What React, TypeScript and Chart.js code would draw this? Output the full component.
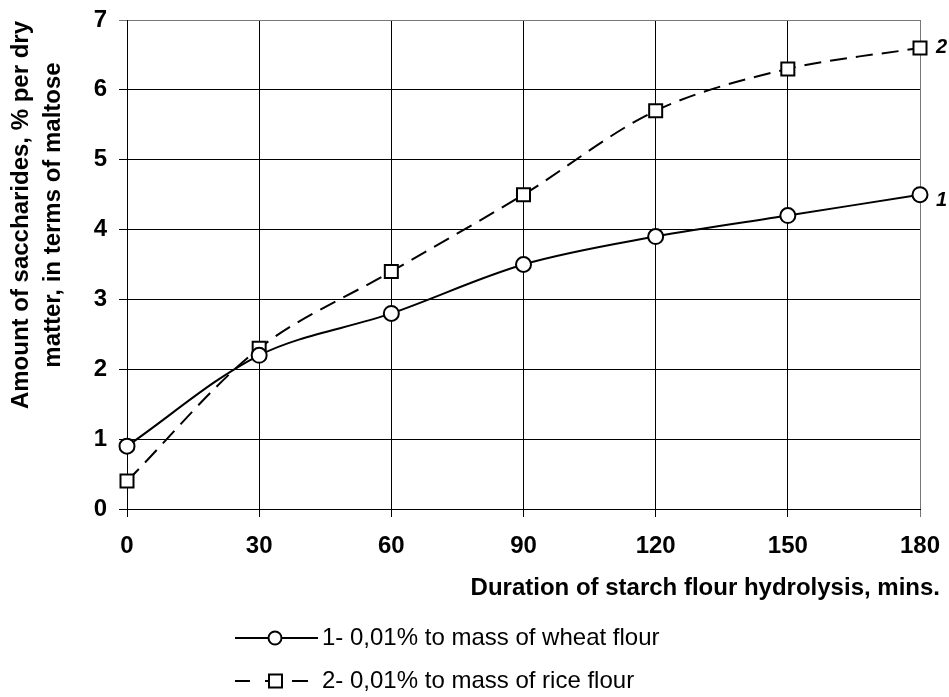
import React, { useEffect, useRef } from "react";
import { Chart, registerables } from "chart.js";

Chart.register(...registerables);

const durations = [0, 30, 60, 90, 120, 150, 180];
const wheatValues = [0.9, 2.2, 2.8, 3.5, 3.9, 4.2, 4.5];
const riceValues = [0.4, 2.3, 3.4, 4.5, 5.7, 6.3, 6.6];
const seriesNames = ["1- 0,01% to mass of wheat flour", "2- 0,01% to mass of rice flour"];
const seriesTags = ["1", "2"];
const yTitleLines = ["Amount of saccharides, % per dry", "matter, in terms of maltose"];
const xTitle = "Duration of starch flour hydrolysis, mins.";

const FONT = "'Liberation Sans', Arial, sans-serif";

const annotate = {
  id: "annotate",
  afterDraw(chart: any) {
    const ctx = chart.ctx as CanvasRenderingContext2D;
    const xs = chart.scales.x;
    const ys = chart.scales.y;
    ctx.save();
    ctx.fillStyle = "#000";
    // y title
    ctx.save();
    ctx.translate(0, 215);
    ctx.rotate(-Math.PI / 2);
    ctx.font = `bold 24px ${FONT}`;
    ctx.textAlign = "center";
    ctx.textBaseline = "alphabetic";
    ctx.fillText(yTitleLines[0], 0, 28);
    ctx.fillText(yTitleLines[1], 0, 60);
    ctx.restore();
    // x title
    ctx.font = `bold 24px ${FONT}`;
    ctx.textAlign = "right";
    ctx.textBaseline = "middle";
    ctx.fillText(xTitle, 940, 588);
    // series tags
    ctx.font = `italic bold 20px ${FONT}`;
    ctx.textAlign = "left";
    const lastX = xs.getPixelForValue(durations[durations.length - 1]);
    ctx.fillText(seriesTags[0], lastX + 16, ys.getPixelForValue(wheatValues[wheatValues.length - 1]) + 6);
    ctx.fillText(seriesTags[1], lastX + 16, ys.getPixelForValue(riceValues[riceValues.length - 1]));
    // legend
    const rows = [
      { y: 638, dash: [] as number[], style: "circle" },
      { y: 681, dash: [] as number[], style: "rect" },
    ];
    rows.forEach((r, i) => {
      ctx.save();
      ctx.strokeStyle = "#000";
      ctx.lineWidth = 2;
      ctx.beginPath();
      if (i === 0) {
        ctx.moveTo(235, r.y);
        ctx.lineTo(318, r.y);
      } else {
        ctx.moveTo(235, r.y);
        ctx.lineTo(250, r.y);
        ctx.moveTo(265, r.y);
        ctx.lineTo(270, r.y);
        ctx.moveTo(292, r.y);
        ctx.lineTo(308, r.y);
      }
      ctx.stroke();
      ctx.fillStyle = "#fff";
      ctx.beginPath();
      if (r.style === "circle") {
        ctx.arc(275, r.y, 6.5, 0, Math.PI * 2);
      } else {
        ctx.rect(269, r.y - 6.5, 13, 13);
      }
      ctx.fill();
      ctx.stroke();
      ctx.restore();
      ctx.fillStyle = "#000";
      ctx.font = `24px ${FONT}`;
      ctx.textAlign = "left";
      ctx.textBaseline = "middle";
      ctx.fillText(seriesNames[i], 322, r.y);
    });
    ctx.restore();
  },
};

export default function App() {
  const ref = useRef<HTMLCanvasElement | null>(null);
  useEffect(() => {
    if (!ref.current) return;
    const chart = new Chart(ref.current, {
      type: "line",
      data: {
        datasets: [
          {
            label: seriesNames[0],
            data: durations.map((d, i) => ({ x: d, y: wheatValues[i] })),
            borderColor: "#000",
            borderWidth: 2,
            tension: 0.33,
            clip: false,
            pointStyle: "circle",
            pointRadius: 7.5,
            pointBorderWidth: 2,
            pointBackgroundColor: "#fff",
            pointBorderColor: "#000",
          },
          {
            label: seriesNames[1],
            data: durations.map((d, i) => ({ x: d, y: riceValues[i] })),
            borderColor: "#000",
            borderWidth: 2,
            borderDash: [17, 9],
            tension: 0.33,
            clip: false,
            pointStyle: "rect",
            pointRadius: 9.2,
            pointBorderWidth: 2,
            pointBackgroundColor: "#fff",
            pointBorderColor: "#000",
          },
        ],
      },
      options: {
        responsive: false,
        animation: false,
        devicePixelRatio: 1,
        layout: { padding: { top: 20, right: 29, bottom: 0, left: 0 } },
        plugins: { legend: { display: false }, tooltip: { enabled: false } },
        scales: {
          x: {
            type: "linear",
            min: 0,
            max: 180,
            afterFit: (s: any) => {
              s.height = 188;
              s.paddingLeft = 0;
              s.paddingRight = 0;
            },
            ticks: {
              stepSize: 30,
              color: "#000",
              padding: 15,
              font: { family: FONT, size: 24, weight: "bold" },
              maxRotation: 0,
            },
            grid: {
              color: (c: any) => (c.tick && c.tick.value === 180 ? "#777" : "#000"),
              lineWidth: 1,
              tickLength: 8,
            },
            border: { color: "#000", width: 1 },
          },
          y: {
            min: 0,
            max: 7,
            afterFit: (s: any) => {
              s.width = 127;
              s.paddingTop = 0;
              s.paddingBottom = 0;
            },
            ticks: {
              stepSize: 1,
              color: "#000",
              padding: 12,
              font: { family: FONT, size: 24, weight: "bold" },
            },
            grid: {
              color: (c: any) => (c.tick && c.tick.value === 7 ? "#777" : "#000"),
              lineWidth: 1,
              tickLength: 8,
            },
            border: { color: "#000", width: 1 },
          },
        },
      },
      plugins: [annotate],
    });
    return () => chart.destroy();
  }, []);
  return (
    <div style={{ position: "absolute", left: 0, top: 0, width: 949, height: 697, background: "#fff" }}>
      <canvas ref={ref} width={949} height={697} style={{ width: 949, height: 697, display: "block" }} />
    </div>
  );
}
